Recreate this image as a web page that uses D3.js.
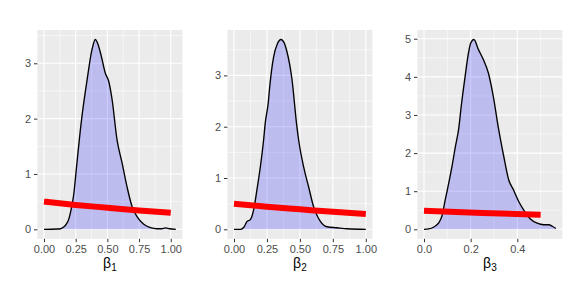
<!DOCTYPE html>
<html>
<head>
<meta charset="utf-8">
<script src="https://cdn.jsdelivr.net/npm/d3@7"></script>
<style>
  body { margin: 0; background: #fff; }
  svg { display: block; font-family: "Liberation Sans", Arial, sans-serif; }
</style>
</head>
<body>
<div id="chart"></div>
<script>
// Posterior density estimates: [x, density]
const beta1Density = [[0,0],[0.1,0.005],[0.13,0.01],[0.155,0.04],[0.175,0.09],[0.195,0.18],[0.215,0.37],[0.234,0.62],[0.26,1.2],[0.287,1.8],[0.30,2.05],[0.34,2.70],[0.379,3.25],[0.405,3.43],[0.42,3.38],[0.45,3.15],[0.484,2.82],[0.51,2.68],[0.537,2.35],[0.576,1.62],[0.616,1.2],[0.655,0.77],[0.695,0.41],[0.734,0.23],[0.787,0.09],[0.84,0.03],[0.89,0.01],[0.93,0.01],[0.958,0.025],[0.99,0.01],[1.04,0]];
const beta2Density = [[0,0],[0.05,0],[0.075,0.04],[0.098,0.15],[0.124,0.19],[0.149,0.38],[0.174,0.77],[0.2,1.22],[0.225,1.75],[0.237,2.07],[0.26,2.47],[0.27,2.75],[0.30,3.35],[0.33,3.62],[0.356,3.70],[0.38,3.64],[0.40,3.48],[0.44,2.92],[0.475,2.05],[0.49,1.75],[0.528,1.22],[0.566,0.83],[0.604,0.44],[0.625,0.3],[0.654,0.16],[0.705,0.05],[0.78,0.03],[0.86,0.01],[1.0,0]];
const beta3Density = [[0,0],[0.02,0.01],[0.042,0.06],[0.063,0.17],[0.077,0.35],[0.091,0.77],[0.106,1.21],[0.12,1.65],[0.134,2.15],[0.149,2.65],[0.161,3.3],[0.176,4.0],[0.19,4.6],[0.2,4.88],[0.214,4.98],[0.233,4.72],[0.254,4.46],[0.276,4.1],[0.297,3.49],[0.32,2.62],[0.342,1.91],[0.363,1.30],[0.384,1.03],[0.406,0.73],[0.427,0.51],[0.456,0.27],[0.485,0.16],[0.513,0.12],[0.535,0.12],[0.55,0.08],[0.565,0.02]];

// Prior curves (red)
const beta1Prior = [[0,0.5],[0.25,0.44],[0.5,0.39],[0.75,0.34],[1,0.30]];
const beta2Prior = [[0,0.5],[0.25,0.44],[0.5,0.39],[0.75,0.34],[1,0.30]];
const beta3Prior = [[0,0.49],[0.25,0.43],[0.5,0.38]];

// Tick labels
const xTicks12 = [0, 0.25, 0.5, 0.75, 1];
const xTicks3 = [0, 0.2, 0.4];
const yTicks12 = [0, 1, 2, 3];
const yTicks3 = [0, 1, 2, 3, 4, 5];
const subscripts = ["1", "2", "3"];

const panels = [
    { density: beta1Density, prior: beta1Prior, xTicks: xTicks12, yTicks: yTicks12, fmt: d3.format(".2f"), sub: subscripts[0], left: 37.4 },
    { density: beta2Density, prior: beta2Prior, xTicks: xTicks12, yTicks: yTicks12, fmt: d3.format(".2f"), sub: subscripts[1], left: 227.4 },
    { density: beta3Density, prior: beta3Prior, xTicks: xTicks3, yTicks: yTicks3, fmt: d3.format(".1f"), sub: subscripts[2], left: 417.4 }
];

const W = 570, H = 285;
const panelW = 145, panelTop = 30, panelBottom = 238.8;

const svg = d3.select("#chart").append("svg")
    .attr("width", W)
    .attr("height", H);

// ggplot-style 5% expansion
function expand(ext) {
    const pad = (ext[1] - ext[0]) * 0.05;
    return [ext[0] - pad, ext[1] + pad];
}

panels.forEach(p => {
    const x = d3.scaleLinear()
        .domain(expand(d3.extent(p.density, d => d[0])))
        .range([p.left, p.left + panelW]);
    const y = d3.scaleLinear()
        .domain(expand([0, d3.max(p.density, d => d[1])]))
        .range([panelBottom, panelTop]);

    const g = svg.append("g");

    g.append("rect")
        .attr("x", p.left).attr("y", panelTop)
        .attr("width", panelW).attr("height", panelBottom - panelTop)
        .attr("fill", "#EBEBEB");

    // minor grid
    const xStep = p.xTicks[1] - p.xTicks[0];
    const yStep = p.yTicks[1] - p.yTicks[0];
    const xDom = x.domain(), yDom = y.domain();
    const xMinor = d3.range(p.xTicks[0] - xStep / 2, xDom[1], xStep).filter(v => v > xDom[0]);
    const yMinor = d3.range(p.yTicks[0] - yStep / 2, yDom[1], yStep).filter(v => v > yDom[0]);

    g.selectAll(".xminor").data(xMinor).enter().append("line")
        .attr("x1", d => x(d)).attr("x2", d => x(d))
        .attr("y1", panelTop).attr("y2", panelBottom)
        .attr("stroke", "#fff").attr("stroke-width", 0.55);
    g.selectAll(".yminor").data(yMinor).enter().append("line")
        .attr("x1", p.left).attr("x2", p.left + panelW)
        .attr("y1", d => y(d)).attr("y2", d => y(d))
        .attr("stroke", "#fff").attr("stroke-width", 0.55);

    // major grid
    g.selectAll(".xmajor").data(p.xTicks).enter().append("line")
        .attr("x1", d => x(d)).attr("x2", d => x(d))
        .attr("y1", panelTop).attr("y2", panelBottom)
        .attr("stroke", "#fff").attr("stroke-width", 1.1);
    g.selectAll(".ymajor").data(p.yTicks).enter().append("line")
        .attr("x1", p.left).attr("x2", p.left + panelW)
        .attr("y1", d => y(d)).attr("y2", d => y(d))
        .attr("stroke", "#fff").attr("stroke-width", 1.1);

    // density
    const area = d3.area()
        .x(d => x(d[0]))
        .y0(y(0))
        .y1(d => y(d[1]))
        .curve(d3.curveMonotoneX);
    const line = d3.line()
        .x(d => x(d[0]))
        .y(d => y(d[1]))
        .curve(d3.curveMonotoneX);

    g.append("path")
        .datum(p.density)
        .attr("d", area)
        .attr("fill", "blue")
        .attr("fill-opacity", 0.2);
    g.append("path")
        .datum(p.density)
        .attr("d", line)
        .attr("fill", "none")
        .attr("stroke", "#000")
        .attr("stroke-width", 1.35);

    // prior
    g.append("path")
        .datum(p.prior)
        .attr("d", d3.line().x(d => x(d[0])).y(d => y(d[1])).curve(d3.curveMonotoneX))
        .attr("fill", "none")
        .attr("stroke", "red")
        .attr("stroke-width", 6);

    // axes
    const xAxis = g.append("g")
        .attr("transform", `translate(0,${panelBottom})`)
        .call(d3.axisBottom(x).tickValues(p.xTicks).tickFormat(p.fmt).tickSize(3.4).tickPadding(3));
    const yAxis = g.append("g")
        .attr("transform", `translate(${p.left},0)`)
        .call(d3.axisLeft(y).tickValues(p.yTicks).tickFormat(d3.format("d")).tickSize(3.4).tickPadding(2.8));

    [xAxis, yAxis].forEach(a => {
        a.select(".domain").remove();
        a.selectAll(".tick line").attr("stroke", "#333").attr("stroke-width", 1);
        a.selectAll(".tick text")
            .attr("fill", "#4D4D4D")
            .style("font-size", "11px")
            .style("font-family", "'Liberation Sans', Arial, sans-serif");
    });

    // axis title with subscript
    const title = g.append("text")
        .attr("x", p.left + panelW / 2)
        .attr("y", 268)
        .attr("text-anchor", "middle")
        .attr("fill", "#000")
        .style("font-size", "14px");
    title.append("tspan").text("β");
    title.append("tspan")
        .attr("dy", 3)
        .style("font-size", "10px")
        .text(p.sub);
});
</script>
</body>
</html>
